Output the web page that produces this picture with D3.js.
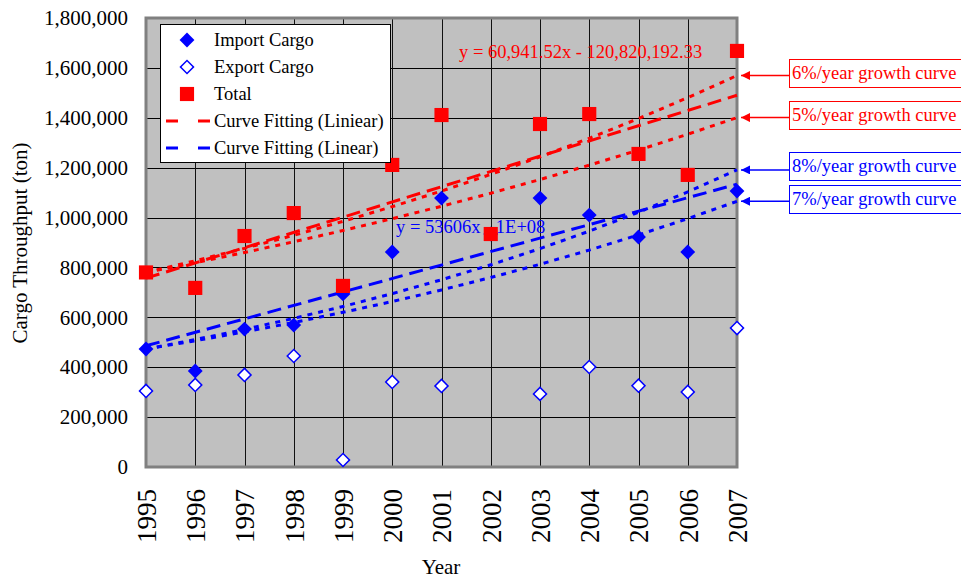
<!DOCTYPE html>
<html>
<head>
<meta charset="utf-8">
<script src="https://cdn.jsdelivr.net/npm/d3@7"></script>
<style>
body{margin:0;background:#fff;}
text{font-family:"Liberation Serif","Times New Roman",serif;}
</style>
</head>
<body>
<div id="chart"></div>
<script>
var years=[1995,1996,1997,1998,1999,2000,2001,2002,2003,2004,2005,2006,2007];
var importCargo=[473000,385000,553000,569000,694000,862000,1078000,934000,1078000,1010000,922000,862000,1106000];
var exportCargo=[305000,329000,369000,445000,28000,341000,325000,null,293000,401000,326000,301000,557000];
var total=[780000,718000,926000,1018000,726000,1211000,1411000,934000,1375000,1415000,1255000,1171000,1668000];
var yTicks=[0,200000,400000,600000,800000,1000000,1200000,1400000,1600000,1800000];
var redGrowth=[0.06,0.05];
var blueGrowth=[0.08,0.07];
var redEq='y = 60,941.52x - 120,820,192.33';
var blueEq='y = 53606x - 1E+08';

var width=961,height=581;
var pLeft=146,pRight=737,pTop=18,pBottom=467;
var red='#ff0000',blue='#0000ff';

var svg=d3.select('#chart').append('svg')
    .attr('width',width)
    .attr('height',height);

var x=d3.scaleLinear().domain([1995,2007]).range([pLeft,pRight]);
var y=d3.scaleLinear().domain([0,1800000]).range([pBottom,pTop]);

// plot area
svg.append('rect')
    .attr('x',pLeft).attr('y',pTop)
    .attr('width',pRight-pLeft).attr('height',pBottom-pTop)
    .style('fill','#c0c0c0');

svg.append('g').selectAll('line').data(yTicks.slice(1,-1))
    .enter().append('line')
    .attr('x1',pLeft).attr('x2',pRight)
    .attr('y1',function(d){return Math.round(y(d))+0.5;})
    .attr('y2',function(d){return Math.round(y(d))+0.5;})
    .style('stroke','#000').style('stroke-width',1);

svg.append('g').selectAll('line').data(years.slice(1,-1))
    .enter().append('line')
    .attr('x1',function(d){return Math.round(x(d))+0.5;})
    .attr('x2',function(d){return Math.round(x(d))+0.5;})
    .attr('y1',pTop).attr('y2',pBottom)
    .style('stroke','#111').style('stroke-width',1);

svg.append('rect')
    .attr('x',pLeft).attr('y',pTop)
    .attr('width',pRight-pLeft).attr('height',pBottom-pTop)
    .style('fill','none').style('stroke','#808080').style('stroke-width',3);

// axes
var yAxis=svg.append('g')
    .attr('transform','translate('+pLeft+',0)')
    .call(d3.axisLeft(y).tickValues(yTicks).tickFormat(d3.format(',')).tickSize(0).tickPadding(18));
yAxis.select('.domain').remove();
yAxis.selectAll('text').style('font-family','Liberation Serif').style('font-size','21px').style('fill','#000');

var xAxis=svg.append('g')
    .attr('transform','translate(0,'+pBottom+')')
    .call(d3.axisBottom(x).tickValues(years).tickFormat(d3.format('d')).tickSize(0));
xAxis.select('.domain').remove();
xAxis.selectAll('text')
    .attr('transform','rotate(-90)')
    .attr('x',-22).attr('y',0).attr('dy','0.35em')
    .style('text-anchor','end')
    .style('font-family','Liberation Serif').style('font-size','27px').style('fill','#000');

svg.append('text')
    .attr('transform','translate(27,243) rotate(-90)')
    .style('text-anchor','middle').style('font-size','21px')
    .text('Cargo Throughput (ton)');

svg.append('text')
    .attr('x',441).attr('y',574)
    .style('text-anchor','middle').style('font-size','21px')
    .text('Year');

// least squares fit
function fit(vals){
    var pts=years.map(function(d,i){return [d,vals[i]];});
    var mx=d3.mean(pts,function(p){return p[0];}),
        my=d3.mean(pts,function(p){return p[1];});
    var sxy=d3.sum(pts,function(p){return (p[0]-mx)*(p[1]-my);}),
        sxx=d3.sum(pts,function(p){return (p[0]-mx)*(p[0]-mx);});
    var b=sxy/sxx;
    return function(t){return my+b*(t-mx);};
}
var line=d3.line()
    .x(function(d){return x(d[0]);})
    .y(function(d){return y(d[1]);});

function growth(base,r){
    return years.map(function(d,i){return [d,base*Math.pow(1+r,i)];});
}

redGrowth.forEach(function(r){
    svg.append('path').datum(growth(total[0],r))
        .attr('d',line)
        .style('fill','none').style('stroke',red).style('stroke-width',3)
        .style('stroke-dasharray','5,6');
});
blueGrowth.forEach(function(r){
    svg.append('path').datum(growth(importCargo[0],r))
        .attr('d',line)
        .style('fill','none').style('stroke',blue).style('stroke-width',3)
        .style('stroke-dasharray','5,6');
});

var fr=fit(total),fb=fit(importCargo);
svg.append('path').datum([[1995,fr(1995)],[2007,fr(2007)]])
    .attr('d',line)
    .style('fill','none').style('stroke',red).style('stroke-width',3)
    .style('stroke-dasharray','14,7');
svg.append('path').datum([[1995,fb(1995)],[2007,fb(2007)]])
    .attr('d',line)
    .style('fill','none').style('stroke',blue).style('stroke-width',3)
    .style('stroke-dasharray','14,7');

svg.append('text')
    .attr('x',459).attr('y',58)
    .style('font-size','18.5px').style('fill',red)
    .text(redEq);
svg.append('text')
    .attr('x',396).attr('y',233)
    .style('font-size','18.5px').style('fill',blue)
    .text(blueEq);

// markers (diamond = square rotated 45deg)
var diamond=d3.symbol().type(d3.symbolSquare).size(110);
var hollow=d3.symbol().type(d3.symbolSquare).size(85);
var square=d3.symbol().type(d3.symbolSquare).size(200);

svg.append('g').selectAll('path').data(importCargo)
    .enter().append('path')
    .attr('d',diamond)
    .attr('transform',function(d,i){return 'translate('+x(years[i])+','+y(d)+') rotate(45)';})
    .style('fill',blue);

svg.append('g').selectAll('path').data(exportCargo.map(function(d,i){return [years[i],d];}).filter(function(d){return d[1]!=null;}))
    .enter().append('path')
    .attr('d',hollow)
    .attr('transform',function(d){return 'translate('+x(d[0])+','+y(d[1])+') rotate(45)';})
    .style('fill','#fff').style('stroke',blue).style('stroke-width',1.5);

svg.append('g').selectAll('path').data(total)
    .enter().append('path')
    .attr('d',square)
    .attr('transform',function(d,i){return 'translate('+x(years[i])+','+y(d)+')';})
    .style('fill',red);

// legend
var legend=svg.append('g');
legend.append('rect')
    .attr('x',160.5).attr('y',24.5).attr('width',230).attr('height',138)
    .style('fill','#fff').style('stroke','#000').style('stroke-width',1);
var legendItems=['Import Cargo','Export Cargo','Total','Curve Fitting (Liniear)','Curve Fitting (Linear)'];
var ly=d3.scalePoint().domain(legendItems).range([40,148]);
legend.selectAll('text.item').data(legendItems)
    .enter().append('text')
    .attr('class','item')
    .attr('x',214).attr('y',function(d){return ly(d);}).attr('dy','0.35em')
    .style('font-size','18.5px')
    .text(function(d){return d;});
legend.append('path').attr('d',diamond)
    .attr('transform','translate(187,'+ly('Import Cargo')+') rotate(45)').style('fill',blue);
legend.append('path').attr('d',hollow)
    .attr('transform','translate(187,'+ly('Export Cargo')+') rotate(45)')
    .style('fill','#fff').style('stroke',blue).style('stroke-width',1.5);
legend.append('path').attr('d',square)
    .attr('transform','translate(187,'+ly('Total')+')').style('fill',red);
[['Curve Fitting (Liniear)',red],['Curve Fitting (Linear)',blue]].forEach(function(e){
    legend.append('line')
        .attr('x1',166).attr('x2',210)
        .attr('y1',ly(e[0])).attr('y2',ly(e[0]))
        .style('stroke',e[1]).style('stroke-width',3)
        .style('stroke-dasharray','12,20');
});

// growth curve labels
var notes=[
    {label:'6%/year growth curve',color:red,base:total[0],r:redGrowth[0],box:59},
    {label:'5%/year growth curve',color:red,base:total[0],r:redGrowth[1],box:101},
    {label:'8%/year growth curve',color:blue,base:importCargo[0],r:blueGrowth[0],box:152},
    {label:'7%/year growth curve',color:blue,base:importCargo[0],r:blueGrowth[1],box:185}
];
var defs=svg.append('defs');
['red','blue'].forEach(function(c){
    defs.append('marker')
        .attr('id','arrow-'+c)
        .attr('viewBox','0 0 10 10')
        .attr('refX',10).attr('refY',5)
        .attr('markerWidth',6).attr('markerHeight',6)
        .attr('orient','auto')
        .append('path').attr('d','M0,0L10,5L0,10z')
        .style('fill',c==='red'?red:blue);
});
notes.forEach(function(n){
    var g=svg.append('g');
    var yEnd=y(n.base*Math.pow(1+n.r,years.length-1));
    g.append('rect')
        .attr('x',789.5).attr('y',n.box+0.5).attr('width',180).attr('height',28)
        .style('fill','#fff').style('stroke',n.color).style('stroke-width',1);
    g.append('text')
        .attr('x',792).attr('y',n.box+14).attr('dy','0.35em')
        .style('font-size','18.5px').style('fill',n.color)
        .text(n.label);
    g.append('line')
        .attr('x1',789).attr('x2',741)
        .attr('y1',yEnd).attr('y2',yEnd)
        .style('stroke',n.color).style('stroke-width',1.5)
        .attr('marker-end','url(#arrow-'+(n.color===red?'red':'blue')+')');
});
</script>
</body>
</html>
